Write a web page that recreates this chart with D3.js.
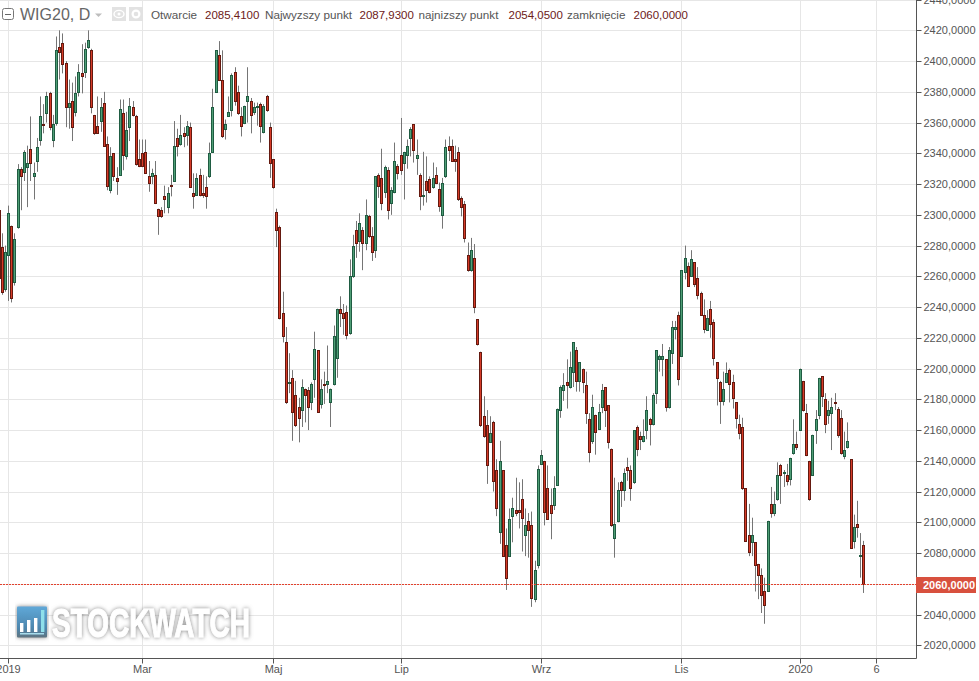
<!DOCTYPE html>
<html lang="pl">
<head>
<meta charset="utf-8">
<title>WIG20, D</title>
<script src="https://cdnjs.cloudflare.com/ajax/libs/d3/7.8.5/d3.min.js"></script>
<style>
html,body{margin:0;padding:0;background:#fff;overflow:hidden}
svg{display:block}
text{font-family:"Liberation Sans",Arial,sans-serif}
</style>
</head>
<body>
<svg id="chart" width="979" height="681"></svg>
<script>
const firstIndex = -3;
const open = [
2303,2279,2252,2274,2293,2256,2292,2330,2328,2331,2343,2325,2335,2349,2359,2366,2379,2349,2360,2409,
2412,2399,2370,2374,2367,2380,2392,2393,2409,2407,2365,2358,2361,2373,2346,2316,2340,2324,2326,2366,
2338,2357,2370,2364,2336,2340,2341,2325,2325,2326,2304,2303,2312,2305,2319.5,2322,2350,2346,2353,2352,
2357,2314,2313,2326,2314,2318,2325,2341,2380,2404,2388,2356,2364,2368,2393,2380,2364,2360,2374,2374,
2367,2370,2372,2354,2377,2357,2336,2302,2292,2236,2217,2191,2194,2183,2175,2173,2187,2186,2178,2193,
2212,2177,2190,2190,2178,2190,2207,2239,2236,2237,2223,2260,2290,2283,2290,2282,2299,2286,2277,2326,
2324,2315,2329,2308,2315,2332,2339,2334,2339,2350,2359,2337,2326,2312,2322,2323,2318,2326,2317,2300,
2325,2345,2345,2336,2341,2311,2307,2274,2264,2272,2232,2211,2169,2163,2152,2165,2134,2094,2134,2085,
2078,2104,2108,2108,2115,2092,2101,2098,2050,2072,2138,2140,2122,2111,2111,2124,2173,2186,2191,2188,
2198,2212,2192,2200,2189,2167,2153,2170,2161,2175,2188,2176,2148,2090,2101,2126,2121,2136,2134,2126,
2162,2156,2153,2160,2167,2164,2184,2206,2206,2206,2175,2210,2226,2235,2208,2263,2267,2260,2269,2259,
2249,2235,2225,2239,2230,2204,2191,2179,2191,2199,2191,2178,2164,2162,2122,2092,2087,2087,2073,2066,
2055,2055,2112,2106,2115,2137,2132,2131,2128,2145,2151,2160,2192,2171,2140,2131,2160,2170,2195,2180,
2170,2171,2178,2174,2168,2143,2149,2141,2088,2099,2078,2085.41];
const high = [
2310,2288,2280,2306,2293,2288,2333,2331,2342,2345,2364,2334,2350,2377,2372,2380,2380,2365,2416,2420,
2418,2400,2388,2386,2390,2398,2411,2412,2420,2408,2365,2377,2376,2380,2351,2344,2340,2331,2375,2375,
2367,2376,2374,2365,2349,2349,2349,2335,2330,2335,2304,2305,2319,2318,2326,2361,2356,2365,2357,2361,
2360,2327,2327,2330,2326,2325,2347,2382,2407,2413,2407,2362,2377,2392,2396,2384,2370,2371,2396,2376,
2373,2373,2373,2372,2378,2360,2336,2304,2293,2250,2227,2210,2199,2192,2181,2193,2187,2188,2191,2224,
2212,2193,2198,2215,2187,2228,2239,2247,2242,2241,2271,2287,2296,2301,2292,2310,2300,2292,2325,2327,
2343,2332,2331,2318,2347,2333,2363,2341,2349,2357,2359,2349,2327,2341,2338,2325,2334,2331,2321,2324,
2349,2351,2349,2345,2344,2312,2309,2282,2285,2281,2232,2211,2182,2173,2169,2166,2141,2153,2134,2096,
2109,2116,2129,2126,2128,2109,2106,2107,2075,2137,2147,2140,2137,2122,2130,2174,2189,2197,2206,2211,
2217,2214,2204,2200,2198,2171,2183,2170,2177,2190,2188,2176,2148,2129,2126,2127,2135,2142,2137,2160,
2163,2159,2167,2182,2168,2184,2212,2209,2216,2206,2214,2231,2231,2237,2264,2280,2269,2277,2269,2266,
2250,2245,2238,2244,2232,2204,2192,2198,2204,2200,2196,2178,2170,2168,2122,2112,2103,2087,2073,2070,
2064,2101,2123,2120,2139,2138,2134,2138,2142,2167,2159,2200,2192,2177,2140,2157,2173,2194,2195,2184,
2179,2181,2184,2175,2173,2159,2165,2141,2105,2114,2093,2087.93];
const low = [
2250,2248,2250,2244,2243,2254,2291,2303,2322,2305,2322,2310,2328,2345,2353,2360,2355,2344,2358,2388,
2392,2357,2356,2348,2364,2377,2379,2389,2408,2366,2352,2353,2354,2345,2316,2314,2322,2313,2326,2329,
2336,2348,2364,2332,2331,2331,2327,2315,2320,2307,2287,2298,2301,2301,2312,2322,2338,2345,2344,2345,
2318,2304,2313,2312,2311,2304,2324,2341,2380,2387,2350,2349,2364,2364,2371,2365,2351,2359,2360,2353,
2365,2358,2347,2353,2367,2324,2317,2279,2232,2217,2177,2184,2153,2162,2152,2162,2165,2160,2173,2181,
2172,2174,2177,2184,2162,2189,2194,2227,2222,2219,2222,2259,2272,2276,2264,2277,2285,2270,2272,2311,
2303,2311,2297,2300,2314,2323,2326,2310,2330,2338,2334,2326,2303,2306,2308,2314,2317,2320,2302,2291,
2324,2335,2335,2328,2309,2299,2282,2263,2263,2236,2215,2162,2155,2125,2152,2120,2104,2086,2078,2056,
2078,2087,2104,2096,2081,2078,2077,2045,2048,2070,2138,2098,2102,2089,2108,2124,2168,2179,2174,2187,
2188,2185,2185,2184,2164,2139,2151,2144,2161,2171,2162,2148,2097,2077,2100,2110,2114,2127,2114,2125,
2143,2147,2152,2154,2150,2163,2177,2198,2195,2172,2174,2203,2219,2189,2208,2258,2254,2260,2253,2245,
2235,2223,2225,2220,2202,2176,2164,2176,2191,2178,2174,2161,2154,2121,2088,2078,2078,2055,2050,2041,
2034,2055,2103,2104,2114,2112,2123,2124,2124,2144,2147,2160,2172,2143,2114,2131,2151,2167,2175,2158,
2164,2147,2173,2155,2144,2141,2148,2083,2083,2090,2064,2054.05];
const close = [
2259,2250,2276,2301,2246,2284,2330,2325,2341,2334,2334,2327,2344,2364,2358.5,2377,2357,2359,2407,2406,
2398,2370,2373,2357,2379,2393,2390,2408,2414,2370,2353,2353.5,2370,2345,2319,2338,2325,2322,2369,2339,
2355,2371,2365,2333,2332,2332,2327,2321,2327,2308,2299,2299,2310,2314,2319,2345,2345,2352,2351,2358,
2318,2312,2324,2313,2313,2312,2340,2370,2407,2388,2351,2359,2367,2391,2374,2366,2358,2371,2377,2365,
2370,2371,2358,2371,2368,2334,2318,2290,2233,2221,2178,2191.5,2172,2163,2168,2188,2183,2175,2190,2213,
2172,2187,2189,2192,2187,2221,2239,2236,2233,2222,2260,2280,2282,2295,2282,2300,2286,2276,2325,2319,
2308,2331,2303,2316,2335,2327,2329,2341,2345,2356,2342,2339,2312,2313,2316,2315,2324,2321,2306,2321,
2344,2342,2335,2335,2310,2305,2285,2264,2277,2240,2216,2163,2156,2137,2158,2127,2109,2140,2078,2064,
2102,2109,2106,2107,2103,2098,2095,2051,2069,2135,2144,2107,2102,2106,2122,2174,2188,2189,2189,2201,
2217,2192,2204,2191,2171,2146,2175,2159,2172,2186,2173,2152,2098,2099,2121,2121,2132,2134,2122,2160,
2148,2154,2156,2173,2164,2183,2212,2208,2208,2175,2212,2227,2227,2193,2264,2272,2254,2271,2255,2248,
2235,2226,2233,2229,2207,2194,2179,2187,2197,2190,2181,2168,2158,2122,2088,2081,2092,2072,2066,2053,
2046,2101,2106,2112,2131,2131,2133,2127,2142,2151,2149,2200,2173,2144,2115,2157,2167,2194,2182,2164,
2173,2175,2177.5,2157,2145,2147,2153,2083,2097,2097,2079,2060];

const priceTicks = d3.range(2020, 2441, 20);
const timeTickIndex = [0, 42, 83, 123, 167, 211, 248, 272];
const timeTickLabels = ["2019", "Mar", "Maj", "Lip", "Wrz", "Lis", "2020", "6"];
const lastPrice = 2060;
const legendLabels = ["Otwarcie", "Najwyzszy punkt", "najnizszy punkt", "zamknięcie"];
const legendValues = ["2085,4100", "2087,9300", "2054,0500", "2060,0000"];
const logoBarHeights = [9, 12, 14, 22];

const fmt = v => d3.format(".4f")(v).replace(".", ",");
const plotRight = 916, plotBottom = 658;
const svg = d3.select("#chart");

const x = d3.scaleLinear().domain([0, 268]).range([8.6, 863.9]);
const y = d3.scaleLinear().domain([2020, 2440]).range([645.3, -0.4]);
const cx = i => Math.floor(x(i)) + 0.5;
const cy = v => Math.round(y(v)) + 0.5;

// grid
const grid = svg.append("g");
grid.selectAll("line.h").data(priceTicks).join("line").attr("class", "h")
  .attr("x1", 0).attr("x2", plotRight).attr("y1", cy).attr("y2", cy)
  .attr("stroke", "#e6e6e6");
grid.selectAll("line.v").data(timeTickIndex).join("line").attr("class", "v")
  .attr("x1", cx).attr("x2", cx).attr("y1", 0).attr("y2", plotBottom)
  .attr("stroke", "#e6e6e6");

// watermark
const defs = svg.append("defs");
const shadow = defs.append("filter").attr("id", "wm").attr("x", "-5%").attr("y", "-20%").attr("width", "110%").attr("height", "140%");
shadow.append("feGaussianBlur").attr("in", "SourceAlpha").attr("stdDeviation", 2.2).attr("result", "b");
shadow.append("feFlood").attr("flood-color", "#858585").attr("result", "f");
shadow.append("feComposite").attr("in", "f").attr("in2", "b").attr("operator", "in").attr("result", "s");
const m = shadow.append("feMerge");
m.append("feMergeNode").attr("in", "s");
m.append("feMergeNode").attr("in", "SourceGraphic");
const lg = defs.append("linearGradient").attr("id", "logo").attr("x1", 0).attr("y1", 0).attr("x2", 0).attr("y2", 1);
lg.append("stop").attr("offset", 0).attr("stop-color", "#5fa8d8");
lg.append("stop").attr("offset", 0.7).attr("stop-color", "#4d86ad");
lg.append("stop").attr("offset", 1).attr("stop-color", "#5f7480");

const wm = svg.append("g");
wm.append("rect").attr("x", 17).attr("y", 606.5).attr("width", 30).attr("height", 31).attr("rx", 1)
  .attr("fill", "url(#logo)").attr("filter", "url(#wm)");
wm.selectAll("rect.bar").data(logoBarHeights).join("rect").attr("class", "bar")
  .attr("x", (d, i) => 20 + i * 7).attr("width", 3.4)
  .attr("y", d => 632 - d).attr("height", d => d)
  .attr("fill", (d, i) => i === 3 ? "#8fe0ea" : "#ffffff");
wm.append("rect").attr("x", 20).attr("y", 633).attr("width", 24).attr("height", 1.5).attr("fill", "#a8dcec");
wm.append("text").attr("x", 52).attr("y", 636.5)
  .attr("font-size", 40).attr("font-weight", 700).attr("fill", "#ffffff")
  .attr("stroke", "#ffffff").attr("stroke-width", 1)
  .attr("textLength", 198).attr("lengthAdjust", "spacingAndGlyphs")
  .attr("filter", "url(#wm)").text("STOCKWATCH");

// candles
const candles = open.map((o, k) => ({ i: firstIndex + k, o, h: high[k], l: low[k], c: close[k] }));
const up = d => d.c > d.o;
const gc = svg.append("g");
gc.selectAll("line").data(candles).join("line")
  .attr("x1", d => cx(d.i)).attr("x2", d => cx(d.i))
  .attr("y1", d => Math.min(y(d.h), y(Math.max(d.o, d.c))))
  .attr("y2", d => Math.max(y(d.l), y(Math.min(d.o, d.c))))
  .attr("stroke", "#757575");
gc.selectAll("rect").data(candles).join("rect")
  .attr("x", d => cx(d.i) - 1)
  .attr("width", 2)
  .attr("y", d => cy(Math.max(d.o, d.c)))
  .attr("height", d => Math.max(1, cy(Math.min(d.o, d.c)) - cy(Math.max(d.o, d.c))))
  .attr("fill", d => up(d) ? "#4f9e76" : "#d63b28")
  .attr("stroke", d => up(d) ? "#1f5c42" : "#64190f");

// last price line
svg.append("line").attr("x1", 0).attr("x2", plotRight).attr("y1", cy(lastPrice)).attr("y2", cy(lastPrice))
  .attr("stroke", "#e3402c").attr("stroke-dasharray", "2 1");

// axes
const yAxis = svg.append("g").attr("transform", `translate(${plotRight + 0.5},0)`)
  .call(d3.axisRight(y).tickValues(priceTicks).tickFormat(fmt).tickSize(5).tickPadding(2));
const xAxis = svg.append("g").attr("transform", `translate(0,${plotBottom + 0.5})`)
  .call(d3.axisBottom(x).tickValues(timeTickIndex).tickFormat((d, k) => timeTickLabels[k]).tickSize(5).tickPadding(2));
[yAxis, xAxis].forEach(a => {
  a.attr("font-family", null).attr("font-size", null);
  a.selectAll("path").attr("stroke", "#555").attr("fill", "none");
  a.selectAll("line").attr("stroke", "#555");
  a.selectAll("text").attr("fill", "#555").attr("font-size", 11);
});
yAxis.selectAll("path").attr("d", `M0,0V${plotBottom + 0.5}`);
xAxis.selectAll("path").attr("d", `M0,0H${plotRight + 0.5}`);
xAxis.selectAll(".tick").attr("transform", d => `translate(${cx(d)},0)`);
yAxis.selectAll(".tick").attr("transform", d => `translate(0,${cy(d)})`);

// last price label
svg.append("rect").attr("x", plotRight).attr("y", 577).attr("width", 60).attr("height", 16).attr("fill", "#d8503e");
svg.append("text").attr("x", 923).attr("y", 589).attr("font-size", 11).attr("font-weight", 700)
  .attr("fill", "#fff").text(fmt(lastPrice));

// header
const hd = svg.append("g");
hd.append("rect").attr("x", 2.5).attr("y", 8.5).attr("width", 11).attr("height", 11).attr("rx", 2)
  .attr("fill", "#fff").attr("stroke", "#777");
hd.append("line").attr("x1", 5).attr("x2", 11).attr("y1", 14.5).attr("y2", 14.5).attr("stroke", "#666");
hd.append("text").attr("x", 20).attr("y", 20).attr("font-size", 16).attr("fill", "#666").text("WIG20, D");
hd.append("path").attr("d", "M95,13.5h7l-3.5,3.5z").attr("fill", "#bdbdbd");
hd.append("rect").attr("x", 112).attr("y", 7).attr("width", 14).attr("height", 14).attr("fill", "#e2e2e2");
hd.append("ellipse").attr("cx", 119).attr("cy", 14).attr("rx", 5).attr("ry", 3.6).attr("fill", "none").attr("stroke", "#fff").attr("stroke-width", 1.4);
hd.append("circle").attr("cx", 119).attr("cy", 14).attr("r", 1.5).attr("fill", "#fff");
hd.append("rect").attr("x", 129).attr("y", 7).attr("width", 14).attr("height", 14).attr("fill", "#e2e2e2");
hd.append("circle").attr("cx", 136).attr("cy", 14).attr("r", 3.4).attr("fill", "none").attr("stroke", "#fff").attr("stroke-width", 2.2);

const labelX = [151, 265, 418.5, 567];
const valueX = [205, 359.5, 508.5, 633.5];
hd.selectAll("text.lab").data(legendLabels).join("text").attr("class", "lab")
  .attr("x", (d, k) => labelX[k]).attr("y", 19).attr("font-size", 11.7).attr("fill", "#555").text(d => d);
hd.selectAll("text.val").data(legendValues).join("text").attr("class", "val")
  .attr("x", (d, k) => valueX[k]).attr("y", 19).attr("font-size", 11.5).attr("fill", "#6d2018").text(d => d);
</script>
</body>
</html>
